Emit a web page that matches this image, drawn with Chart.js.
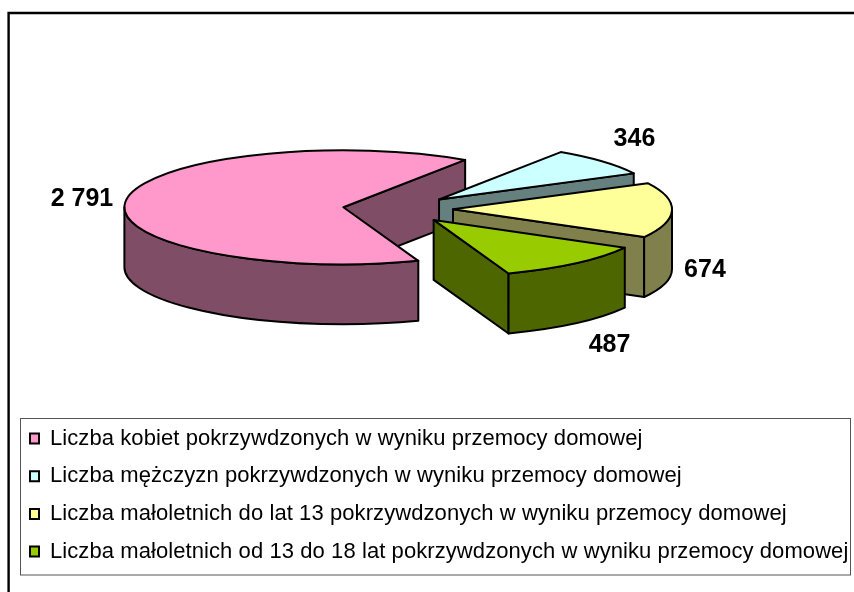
<!DOCTYPE html>
<html><head><meta charset="utf-8">
<style>html,body{margin:0;padding:0;background:#fff}canvas{display:block}</style>
<script src="https://cdn.jsdelivr.net/npm/chart.js@4/dist/chart.umd.min.js"></script>
</head><body><canvas id="c" width="854" height="592"></canvas>
<script>
const categories = [
  'Liczba kobiet pokrzywdzonych w wyniku przemocy domowej',
  'Liczba mężczyzn pokrzywdzonych w wyniku przemocy domowej',
  'Liczba małoletnich do lat 13 pokrzywdzonych w wyniku przemocy domowej',
  'Liczba małoletnich od 13 do 18 lat pokrzywdzonych w wyniku przemocy domowej'
];
const values = [2791, 346, 674, 487];
const topColors = ['#FF99CC', '#CCFFFF', '#FFFF99', '#99CC00'];
const sideColors = ['#804D66', '#668080', '#80804D', '#4D6600'];

// drawing geometry of the 3D pie
const CX = 398, CY = 209, RX = 219, RY = 57, DEPTH = 60, EXPLODE = 55;
const labelNudge = [[-44, -1], [32, -22], [33, 60], [34, 82]];
const LEGEND_SPACING = '0.08px';
const fmt = v => String(v).replace(/\B(?=(\d{3})+$)/g, ' ');

const pie3d = {
  id: 'pie3d',
  beforeDraw(chart) {
    const ctx = chart.ctx;
    ctx.letterSpacing = LEGEND_SPACING;
    ctx.save();
    ctx.strokeStyle = '#000'; ctx.lineWidth = 2.4;
    ctx.beginPath(); ctx.moveTo(8.6, 592); ctx.lineTo(8.6, 13); ctx.lineTo(854, 13); ctx.stroke();
    const l = chart.legend;
    ctx.strokeStyle = '#555'; ctx.lineWidth = 1;
    ctx.strokeRect(20.5, l.top + 6.7, 830, 156.5);
    ctx.restore();
  },
  beforeDatasetDraw(chart) {
    const ctx = chart.ctx;
    ctx.letterSpacing = '0px';
    const arcs = chart.getDatasetMeta(0).data;
    arcs.forEach((arc, i) => {
      const s = arc.startAngle, e = arc.endAngle, mid = (s + e) / 2;
      const ox = CX + Math.cos(mid) * EXPLODE;
      const oy = CY + Math.sin(mid) * EXPLODE * RY / RX;
      const px = a => ox + RX * Math.cos(a), py = a => oy + RY * Math.sin(a);
      const wall = a => {
        ctx.beginPath();
        ctx.moveTo(ox, oy); ctx.lineTo(px(a), py(a));
        ctx.lineTo(px(a), py(a) + DEPTH); ctx.lineTo(ox, oy + DEPTH); ctx.closePath();
        ctx.fillStyle = sideColors[i]; ctx.fill(); ctx.stroke();
      };
      ctx.save();
      ctx.strokeStyle = '#000'; ctx.lineWidth = 2; ctx.lineJoin = 'round';
      if (Math.cos(s) < 0) wall(s);
      if (Math.cos(e) > 0) wall(e);
      // visible rim: the front half of the ellipse (angles 0..PI)
      for (let k = -1; k <= 1; k++) {
        const a0 = Math.max(s, 2 * Math.PI * k), a1 = Math.min(e, 2 * Math.PI * k + Math.PI);
        if (a1 > a0) {
          ctx.beginPath();
          ctx.ellipse(ox, oy, RX, RY, 0, a0, a1);
          ctx.ellipse(ox, oy + DEPTH, RX, RY, 0, a1, a0, true);
          ctx.closePath();
          ctx.fillStyle = sideColors[i]; ctx.fill(); ctx.stroke();
        }
      }
      // top face: the library's arc element, flattened
      ctx.save();
      ctx.translate(ox, oy);
      ctx.scale(RX / arc.outerRadius, RY / arc.outerRadius);
      ctx.translate(-arc.x, -arc.y);
      arc.draw(ctx);
      ctx.restore();
      ctx.beginPath();
      ctx.moveTo(ox, oy);
      ctx.ellipse(ox, oy, RX, RY, 0, s, e);
      ctx.closePath();
      ctx.stroke();
      ctx.restore();
    });
    ctx.save();
    ctx.fillStyle = '#000';
    ctx.font = 'bold 25px "Liberation Sans", Arial, sans-serif';
    ctx.textAlign = 'center'; ctx.textBaseline = 'middle';
    arcs.forEach((arc, i) => {
      const mid = (arc.startAngle + arc.endAngle) / 2;
      const ox = CX + Math.cos(mid) * (EXPLODE + RX);
      const oy = CY + Math.sin(mid) * (EXPLODE + RX) * RY / RX;
      ctx.fillText(fmt(values[i]), ox + labelNudge[i][0], oy + labelNudge[i][1]);
    });
    ctx.restore();
    ctx.letterSpacing = LEGEND_SPACING;
    return false;
  }
};

new Chart(document.getElementById('c'), {
  type: 'pie',
  data: { labels: categories, datasets: [{ data: values, backgroundColor: topColors, borderWidth: 0 }] },
  options: {
    responsive: false,
    animation: false,
    rotation: 160,
    layout: { padding: { left: 14.3, right: 0, top: 20, bottom: 19.4 } },
    plugins: {
      tooltip: { enabled: false },
      legend: {
        position: 'bottom',
        align: 'start',
        labels: {
          boxWidth: 9, boxHeight: 10, padding: 15.7, color: '#000',
          font: { family: '"Liberation Sans", Arial, sans-serif', size: 22 },
          generateLabels: chart => categories.map((t, i) => ({
            text: t, fillStyle: topColors[i], strokeStyle: '#000', lineWidth: 2, index: i, hidden: false
          }))
        }
      }
    }
  },
  plugins: [pie3d]
});
</script></body></html>
